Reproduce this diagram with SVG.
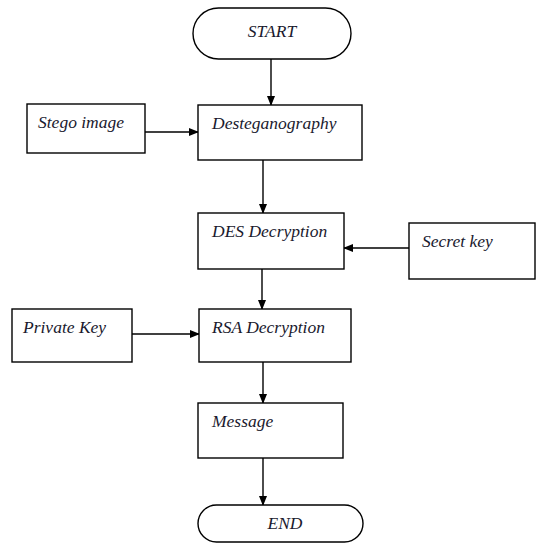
<svg xmlns="http://www.w3.org/2000/svg" width="537" height="551" viewBox="0 0 537 551">
<style>
.box{fill:#fff;stroke:#000;stroke-width:1.4}
.t{font-family:"Liberation Serif","Times New Roman",serif;font-style:italic;font-size:17.5px;fill:#1a1a2e}
.c{stroke:#000;stroke-width:1.4;fill:none}
</style>
<defs>
<marker id="ah" markerWidth="10" markerHeight="8" refX="9" refY="4" orient="auto" markerUnits="userSpaceOnUse">
<path d="M0,0 L10,4 L0,8 Z" fill="#000"/>
</marker>
</defs>
<rect width="537" height="551" fill="#fff"/>
<g id="connectors">
<line class="c" x1="271" y1="59" x2="271" y2="105" marker-end="url(#ah)"/>
<line class="c" x1="145" y1="132" x2="198" y2="132" marker-end="url(#ah)"/>
<line class="c" x1="263" y1="160" x2="263" y2="213" marker-end="url(#ah)"/>
<line class="c" x1="409" y1="248" x2="344" y2="248" marker-end="url(#ah)"/>
<line class="c" x1="262" y1="269" x2="262" y2="309" marker-end="url(#ah)"/>
<line class="c" x1="132" y1="334" x2="199" y2="334" marker-end="url(#ah)"/>
<line class="c" x1="263" y1="362" x2="263" y2="403" marker-end="url(#ah)"/>
<line class="c" x1="263" y1="458" x2="263" y2="505" marker-end="url(#ah)"/>
</g>
<g id="start">
<rect class="box" x="193" y="8" width="158" height="51" rx="25.5"/>
<text class="t" x="272" y="37" text-anchor="middle">START</text>
</g>
<g id="desteganography">
<rect class="box" x="198" y="105" width="164" height="55"/>
<text class="t" x="212" y="129">Desteganography</text>
</g>
<g id="stego">
<rect class="box" x="27" y="104" width="118" height="49"/>
<text class="t" x="38" y="128">Stego image</text>
</g>
<g id="des">
<rect class="box" x="198" y="213" width="146" height="56"/>
<text class="t" x="212" y="237">DES Decryption</text>
</g>
<g id="secret">
<rect class="box" x="409" y="223" width="126" height="56"/>
<text class="t" x="422" y="247">Secret key</text>
</g>
<g id="rsa">
<rect class="box" x="199" y="309" width="152" height="53"/>
<text class="t" x="212" y="333">RSA Decryption</text>
</g>
<g id="private">
<rect class="box" x="12" y="309" width="120" height="53"/>
<text class="t" x="23" y="333">Private Key</text>
</g>
<g id="message">
<rect class="box" x="198" y="403" width="145" height="55"/>
<text class="t" x="212" y="427">Message</text>
</g>
<g id="end">
<rect class="box" x="198" y="505" width="165" height="37" rx="18.5"/>
<text class="t" x="285" y="529" text-anchor="middle">END</text>
</g>
</svg>
